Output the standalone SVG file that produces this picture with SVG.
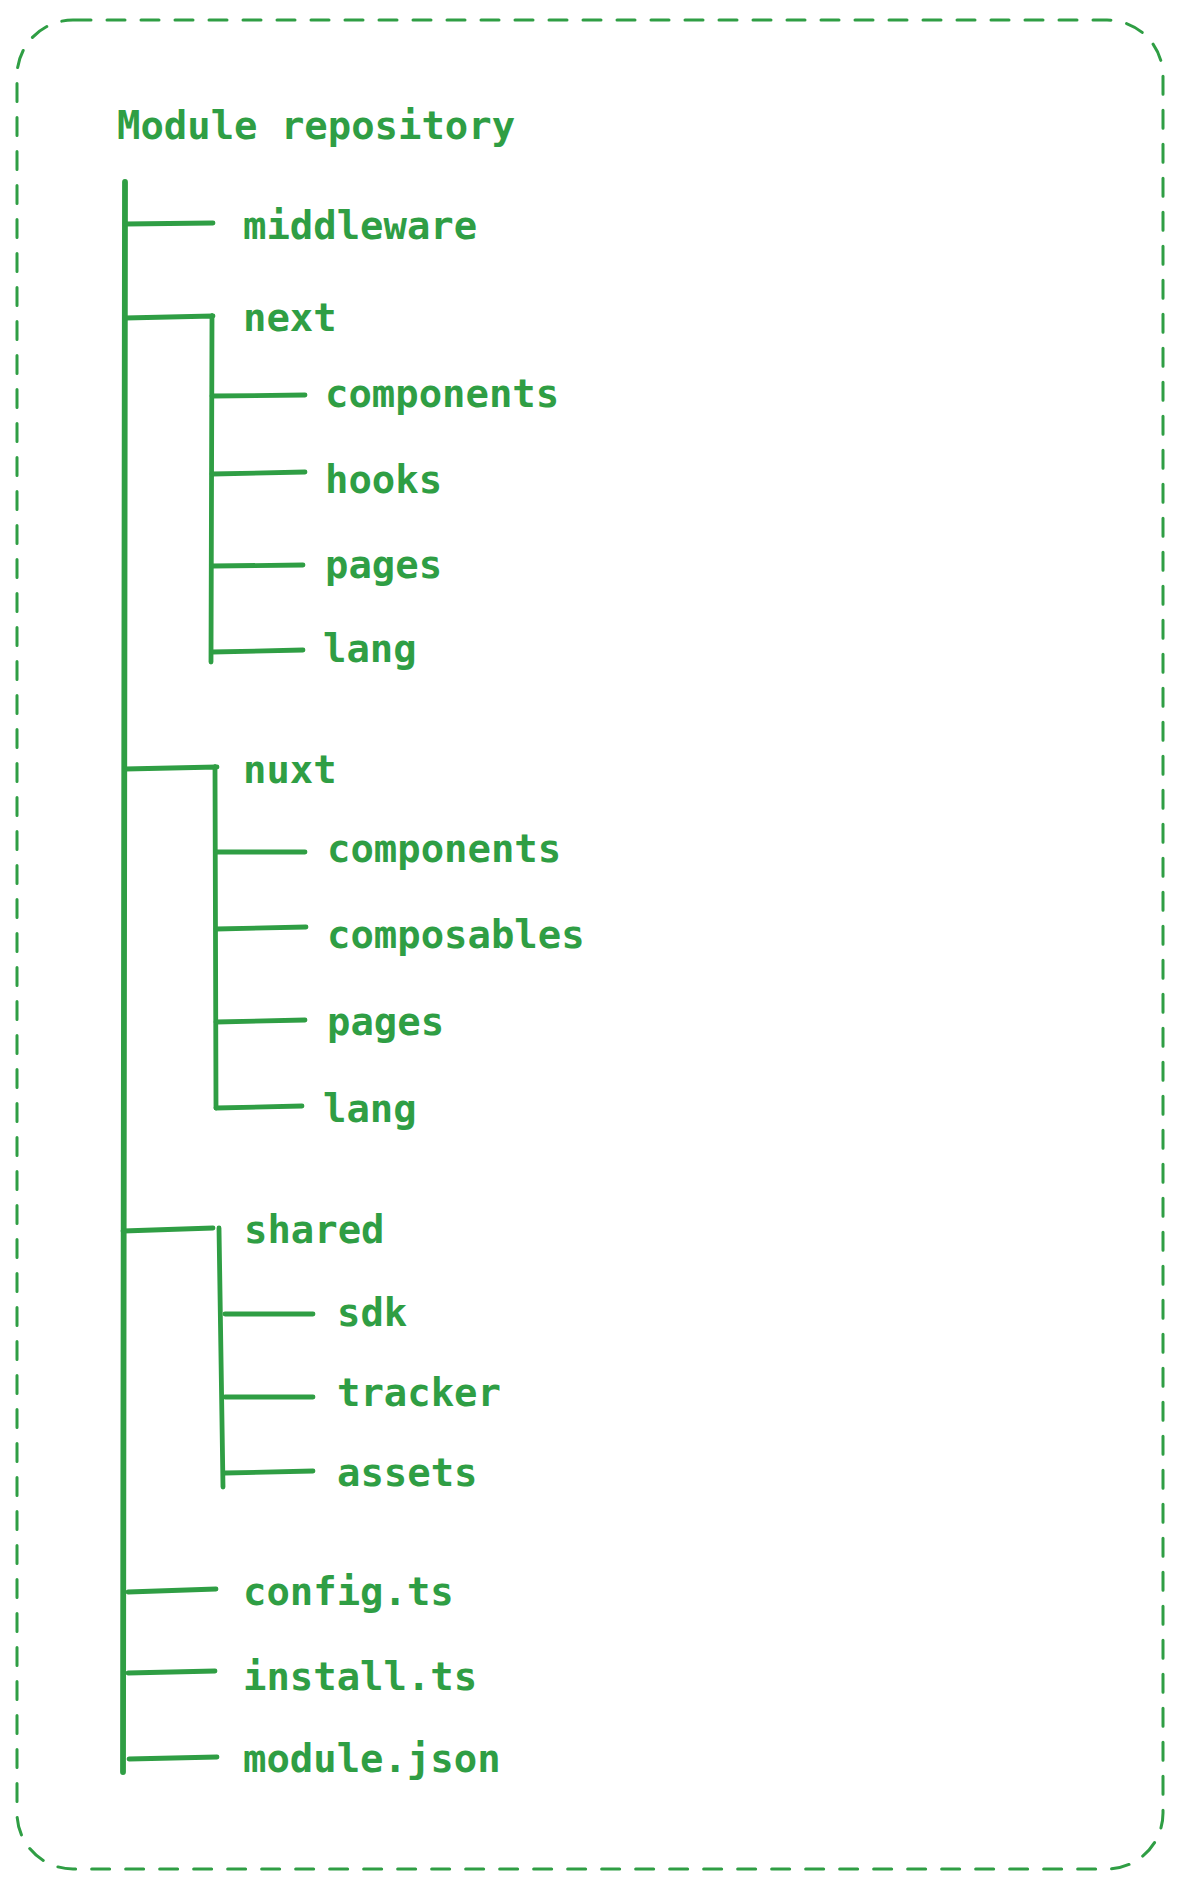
<svg xmlns="http://www.w3.org/2000/svg" width="1183" height="1888" viewBox="0 0 1183 1888">
<style>
.t{font-family:"DejaVu Sans Mono","Liberation Mono",monospace;font-size:38.9px;font-weight:bold;fill:#2f9e44}
.c{fill:none;stroke:#2f9e44;stroke-width:4.8;stroke-linecap:round;stroke-linejoin:round}
.main{stroke-width:5.8}
.frame{fill:none;stroke:#2f9e44;stroke-width:3;stroke-dasharray:18 16;stroke-linecap:round}
</style>
<rect width="1183" height="1888" fill="#ffffff"/>
<g id="container">
<rect class="frame" x="17" y="20" width="1146" height="1849" rx="56" ry="56"/>
</g>
<g id="connectors">
<path class="c main" d="M125 182 L123 1772"/>
<path class="c" d="M125 224 L213 223"/>
<path class="c" d="M125 318 L213 316 M212 316 L211 662"/>
<path class="c" d="M212 396 L305 395"/>
<path class="c" d="M212 474 L305 472"/>
<path class="c" d="M212 566 L303 565"/>
<path class="c" d="M212 652 L303 650"/>
<path class="c" d="M125 769 L217 767 M215 767 L216 1108"/>
<path class="c" d="M216 852 L305 852"/>
<path class="c" d="M216 929 L306 927"/>
<path class="c" d="M216 1022 L305 1020"/>
<path class="c" d="M216 1108 L302 1106"/>
<path class="c" d="M123 1231 L213 1228 M219 1228 L223 1487"/>
<path class="c" d="M225 1314 L313 1314"/>
<path class="c" d="M225 1397 L313 1397"/>
<path class="c" d="M225 1473 L313 1471"/>
<path class="c" d="M128 1592 L216 1589"/>
<path class="c" d="M128 1673 L215 1671"/>
<path class="c" d="M129 1759 L217 1757"/>
</g>
<g id="root"><text class="t" x="117" y="139">Module repository</text></g>
<g id="middleware"><text class="t" x="243" y="239">middleware</text></g>
<g id="next"><text class="t" x="243" y="331">next</text></g>
<g id="next-components"><text class="t" x="325" y="407">components</text></g>
<g id="next-hooks"><text class="t" x="325" y="493">hooks</text></g>
<g id="next-pages"><text class="t" x="325" y="578">pages</text></g>
<g id="next-lang"><text class="t" x="323" y="662">lang</text></g>
<g id="nuxt"><text class="t" x="243" y="783">nuxt</text></g>
<g id="nuxt-components"><text class="t" x="327" y="862">components</text></g>
<g id="nuxt-composables"><text class="t" x="327" y="948">composables</text></g>
<g id="nuxt-pages"><text class="t" x="327" y="1035">pages</text></g>
<g id="nuxt-lang"><text class="t" x="323" y="1122">lang</text></g>
<g id="shared"><text class="t" x="244" y="1243">shared</text></g>
<g id="shared-sdk"><text class="t" x="337" y="1326">sdk</text></g>
<g id="shared-tracker"><text class="t" x="337" y="1406">tracker</text></g>
<g id="shared-assets"><text class="t" x="337" y="1486">assets</text></g>
<g id="config"><text class="t" x="243" y="1605">config.ts</text></g>
<g id="install"><text class="t" x="243" y="1690">install.ts</text></g>
<g id="module-json"><text class="t" x="243" y="1772">module.json</text></g>
</svg>
